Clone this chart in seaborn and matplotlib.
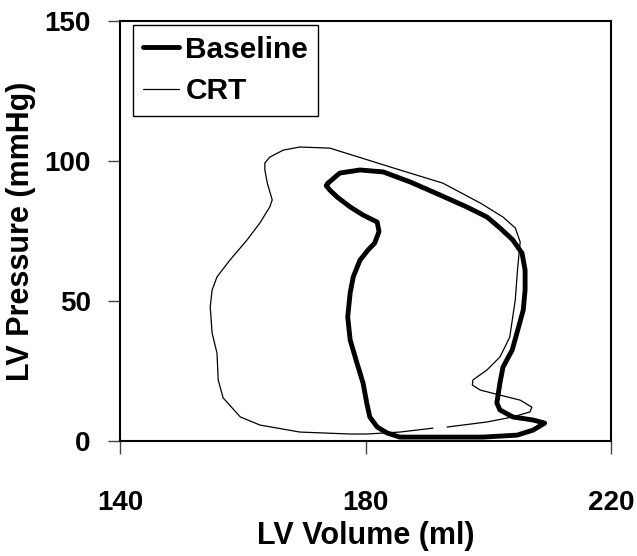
import seaborn as sns
import pandas as pd
import matplotlib.pyplot as plt

# LV pressure-volume loops
baseline_volume = [173.9, 175.8, 179.1, 182.9, 187.3, 192.1, 196.5, 199.8, 201.9, 204.0,
                   205.5, 206.0, 206.0, 205.7, 204.8, 203.9, 202.4, 201.9, 201.4, 201.9,
                   204.0, 207.3, 209.2, 207.3, 204.7, 199.1, 192.1, 185.6, 183.5, 181.9,
                   180.7, 180.2, 179.6, 178.6, 177.5, 177.1, 177.5, 178.0, 179.1, 180.4,
                   181.5, 182.2, 181.9, 179.6, 177.5, 175.4, 174.2, 173.6, 173.9]
baseline_pressure = [92.1, 95.7, 96.8, 96.1, 92.5, 87.9, 83.6, 80.0, 76.1, 71.8,
                     67.1, 61.1, 53.9, 46.8, 39.6, 32.5, 26.4, 20.7, 13.6, 11.1,
                     8.6, 7.5, 6.4, 3.9, 2.1, 1.4, 1.4, 1.4, 2.9, 5.0,
                     8.6, 13.6, 20.7, 27.9, 36.1, 44.3, 52.9, 58.6, 64.6, 68.2,
                     70.7, 74.8, 78.2, 80.7, 83.6, 87.1, 89.6, 91.2, 92.1]

crt_volume = [191.0, 185.6, 180.2, 177.5, 169.3, 162.8, 159.6, 156.8, 156.0, 155.8,
              155.0, 154.7, 155.0, 155.8, 157.9, 160.7, 162.8, 164.4, 164.8, 164.0,
              163.6, 163.6, 164.4, 166.6, 169.3, 174.2, 185.6, 192.6, 198.7, 202.4,
              204.4, 205.2, 204.8, 204.4, 203.5, 201.9, 199.8, 197.5, 197.4, 198.7,
              201.9, 205.2, 207.1, 206.8, 204.0, 199.8, 193.3]
crt_pressure = [4.6, 3.2, 2.5, 2.5, 3.2, 5.7, 8.6, 15.4, 21.8, 31.4,
                38.6, 47.9, 53.9, 58.6, 64.6, 71.8, 77.9, 83.6, 86.1, 92.1,
                96.8, 99.3, 101.4, 103.9, 105.0, 104.6, 96.8, 92.1, 85.0, 80.0,
                76.1, 71.1, 62.1, 50.4, 37.1, 30.0, 25.4, 21.8, 20.0, 18.2,
                16.4, 14.6, 12.1, 10.4, 8.6, 6.8, 5.0]

x_ticks = [140, 180, 220]
y_ticks = [0, 50, 100, 150]

sns.set_theme(style="ticks")
plt.rcParams['font.family'] = ['Liberation Sans', 'DejaVu Sans']
plt.rcParams['text.color'] = 'black'
plt.rcParams['axes.labelcolor'] = 'black'
plt.rcParams['xtick.color'] = 'black'
plt.rcParams['ytick.color'] = 'black'

baseline = pd.DataFrame({'volume': baseline_volume, 'pressure': baseline_pressure})
crt = pd.DataFrame({'volume': crt_volume, 'pressure': crt_pressure})

fig, ax = plt.subplots(figsize=(6.37, 5.56), dpi=100)
fig.subplots_adjust(left=0.1884, right=0.9592, bottom=0.2068, top=0.9622)

sns.lineplot(data=baseline, x='volume', y='pressure', sort=False, estimator=None,
             color='black', linewidth=3.5, ax=ax, label='Baseline')
sns.lineplot(data=crt, x='volume', y='pressure', sort=False, estimator=None,
             color='black', linewidth=0.9, ax=ax, label='CRT')

ax.set_xlim(140, 220)
ax.set_ylim(0, 150)
ax.set_xticks(x_ticks)
ax.set_yticks(y_ticks)

ax.tick_params(axis='x', direction='out', length=9, width=1, color='#444444',
               labelcolor='black', labelsize=20, pad=26)
ax.tick_params(axis='y', direction='out', length=9, width=1, color='#444444',
               labelcolor='black', labelsize=20, pad=12)
for lbl in ax.get_xticklabels() + ax.get_yticklabels():
    lbl.set_fontweight('bold')

for side in ['left', 'right', 'top', 'bottom']:
    ax.spines[side].set_color('black')
    ax.spines[side].set_linewidth(1.5)

ax.set_xlabel('LV Volume (ml)', fontsize=22, fontweight='bold', labelpad=4)
ax.set_ylabel('LV Pressure (mmHg)', fontsize=22, fontweight='bold', labelpad=6)

ax.legend(loc='upper left', bbox_to_anchor=(0.0265, 0.99), borderaxespad=0,
          frameon=True, fancybox=False, edgecolor='black', framealpha=1,
          prop={'weight': 'bold', 'size': 21.5}, handlelength=1.2,
          handletextpad=0.2, borderpad=0.35, labelspacing=0.45)
ax.get_legend().get_frame().set_linewidth(1)

plt.savefig('out.png', dpi=100)
